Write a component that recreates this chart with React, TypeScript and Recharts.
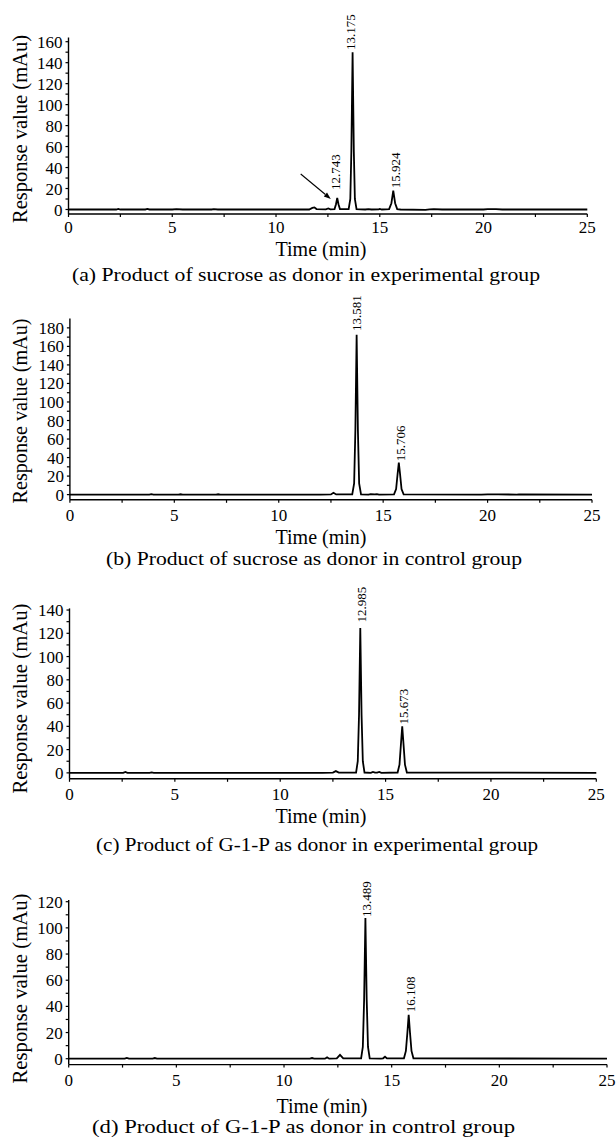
import React from 'react';
import { LineChart, Line, XAxis, YAxis, ReferenceDot, ReferenceLine } from 'recharts';

const FONT = '"Liberation Serif", "Times New Roman", serif';

const xTicks = [0, 2.5, 5, 7.5, 10, 12.5, 15, 17.5, 20, 22.5, 25];

// (a) sucrose, experimental
const timeA = [0, 2.3, 2.4, 2.5, 3.7, 3.8, 3.9, 5.0, 5.2, 5.5, 6.9, 7.0, 7.2, 11.6, 11.75, 11.85, 11.95, 12.4, 12.52, 12.62, 12.82, 12.89, 12.95, 13.01, 13.08, 13.5, 13.58, 13.63, 13.69, 13.75, 13.8, 13.88, 14.3, 14.45, 14.6, 14.95, 15.0, 15.1, 15.45, 15.56, 15.65, 15.74, 15.84, 16.0, 17.2, 17.4, 17.6, 18.0, 20.0, 20.2, 20.6, 20.9, 25];
const signalA = [0, 0, 0.6, 0, 0, 0.5, 0, 0, 0.4, 0, 0, 0.3, 0, 0, 1.5, 2, 0.4, 0.2, 1, 0.2, 0.4, 5, 11, 5, 0.4, 0.3, 10, 55, 150, 55, 10, 0.3, 0, 0.4, 0, 0.2, 0.6, 0, 0.3, 6, 18, 6, 0.4, 0, -0.3, 0.2, 0.3, 0, 0, 0.4, 0.3, 0, 0];
const yTicksA = [0, 10, 20, 30, 40, 50, 60, 70, 80, 90, 100, 110, 120, 130, 140, 150, 160];
const peakTimeA = [12.84, 13.6, 15.73];
const peakTopA = [18.6, 152, 20.2];
const peakTextA = ['12.743', '13.175', '15.924'];
const arrowA = [{ x: 11.19, y: 33.8 }, { x: 12.64, y: 10 }];

// (b) sucrose, control
const timeB = [0, 3.8, 3.9, 4.0, 5.2, 5.3, 5.4, 7.0, 7.1, 7.2, 12.0, 12.5, 12.62, 12.75, 13.52, 13.61, 13.67, 13.73, 13.79, 13.85, 13.94, 14.3, 14.4, 14.6, 14.7, 14.8, 15.52, 15.62, 15.69, 15.75, 15.81, 15.88, 15.98, 19.7, 20.0, 20.5, 21.4, 21.5, 25];
const signalB = [0, 0, 0.5, 0, 0, 0.4, 0, 0, 0.4, 0, 0, 0.2, 2, 0.2, 0.3, 12, 70, 172.5, 70, 12, 0.3, 0, 0.5, 0.3, 0.5, 0, 0.3, 6, 22, 34.5, 22, 6, 0.3, 0, 0.3, 0.3, 0, 0.3, 0];
const yTicksB = [0, 10, 20, 30, 40, 50, 60, 70, 80, 90, 100, 110, 120, 130, 140, 150, 160, 170, 180];
const peakTimeB = [13.73, 15.81];
const peakTopB = [176.5, 36];
const peakTextB = ['13.581', '15.706'];

// (c) G-1-P, experimental
const timeC = [0, 2.55, 2.65, 2.75, 3.8, 3.9, 4.0, 12.0, 12.5, 12.64, 12.78, 13.6, 13.68, 13.74, 13.8, 13.86, 13.92, 14.0, 14.3, 14.4, 14.5, 14.6, 14.7, 14.8, 15.57, 15.66, 15.73, 15.79, 15.85, 15.92, 16.01, 25];
const signalC = [0, 0, 0.8, 0, 0, 0.4, 0, 0, 0.2, 1.5, 0.2, 0.3, 10, 50, 124.5, 50, 10, 0.3, 0, 0.8, 0.2, 0.2, 0.8, 0, 0.3, 7, 25, 40, 25, 7, 0.3, 0];
const yTicksC = [0, 10, 20, 30, 40, 50, 60, 70, 80, 90, 100, 110, 120, 130, 140];
const peakTimeC = [13.85, 15.85];
const peakTopC = [129.3, 41.5];
const peakTextC = ['12.985', '15.673'];

// (d) G-1-P, control
const timeD = [0, 2.6, 2.7, 2.8, 3.9, 4.0, 4.1, 11.2, 11.3, 11.4, 11.9, 12.0, 12.1, 12.45, 12.6, 12.75, 13.58, 13.66, 13.72, 13.78, 13.84, 13.9, 13.98, 14.5, 14.6, 14.69, 14.78, 15.57, 15.66, 15.73, 15.79, 15.85, 15.92, 16.01, 25];
const signalD = [0, 0, 0.6, 0, 0, 0.5, 0, 0, 0.5, 0, 0, 1, 0, 0.2, 3, 0.2, 0.3, 9, 45, 107.5, 45, 9, 0.3, 0, 0.3, 1.5, 0.2, 0.3, 6, 20, 33.6, 20, 6, 0.3, 0];
const yTicksD = [0, 10, 20, 30, 40, 50, 60, 70, 80, 90, 100, 110, 120];
const peakTimeD = [13.82, 15.85];
const peakTopD = [108.3, 35.6];
const peakTextD = ['13.489', '16.108'];

const captions = [
  '(a) Product of sucrose as donor in experimental group',
  '(b) Product of sucrose as donor in control group',
  '(c) Product of G-1-P as donor in experimental group',
  '(d) Product of G-1-P as donor in control group',
];

// axis boxes reserved inside the margins
const Y_AXIS_W = 40;
const X_AXIS_H = 30;

const peakLabel = (text: string) => (props: any) => {
  const vb = props.viewBox || {};
  const x = vb.x + (vb.width || 0) / 2;
  const y = vb.y + (vb.height || 0) / 2;
  return (
    <text
      x={x}
      y={y}
      dy="0.36em"
      transform={`rotate(-90 ${x} ${y})`}
      fontSize={13}
      fontFamily={FONT}
      fill="#000"
    >
      {text}
    </text>
  );
};

const arrowShape = (p: any) => {
  const { x1, y1, x2, y2 } = p;
  const ang = Math.atan2(y2 - y1, x2 - x1);
  const len = 7;
  const half = 2.5;
  const bx = x2 - len * Math.cos(ang);
  const by = y2 - len * Math.sin(ang);
  const pts = `${x2},${y2} ${bx + half * Math.sin(ang)},${by - half * Math.cos(ang)} ${bx - half * Math.sin(ang)},${by + half * Math.cos(ang)}`;
  return (
    <g>
      <line x1={x1} y1={y1} x2={bx} y2={by} stroke="#000" strokeWidth={1.1} />
      <polygon points={pts} fill="#000" />
    </g>
  );
};

interface PanelProps {
  top: number;
  height: number;
  plot: { top: number; right: number; bottom: number; left: number };
  domain: [number, number];
  xTickMargin: number;
  times: number[];
  signal: number[];
  yTicks: number[];
  peakTimes: number[];
  peakTops: number[];
  peakTexts: string[];
  arrow?: { x: number; y: number }[];
  yLabel: { x: number; y: number; len: number };
  timeLabel: { x: number; y: number };
  caption: { text: string; x: number; y: number; len: number };
}

const Panel = (p: PanelProps) => {
  const data = p.times.map((t, i) => ({ t, v: p.signal[i] }));
  const tickStyle = { fill: '#000', fontSize: 17, fontFamily: FONT };
  const margin = {
    top: p.plot.top,
    right: p.plot.right,
    bottom: p.plot.bottom - X_AXIS_H,
    left: p.plot.left - Y_AXIS_W,
  };
  return (
    <div style={{ position: 'absolute', left: 0, top: p.top, width: 616, height: p.height }}>
      <LineChart width={616} height={p.height} data={data} margin={margin}>
        <XAxis
          dataKey="t"
          type="number"
          domain={[0, 25]}
          ticks={xTicks}
          interval={0}
          height={X_AXIS_H}
          tickSize={3}
          tickMargin={p.xTickMargin}
          tickFormatter={(v: number) => (v % 5 === 0 ? String(v) : '')}
          tick={tickStyle}
          axisLine={{ stroke: '#000', strokeWidth: 1.4 }}
          tickLine={{ stroke: '#000', strokeWidth: 1.2 }}
        />
        <YAxis
          type="number"
          domain={p.domain}
          ticks={p.yTicks}
          interval={0}
          width={Y_AXIS_W}
          allowDataOverflow
          tickSize={3}
          tickMargin={3}
          tickFormatter={(v: number) => (v % 20 === 0 ? String(v) : '')}
          tick={tickStyle}
          axisLine={{ stroke: '#000', strokeWidth: 1.4 }}
          tickLine={{ stroke: '#000', strokeWidth: 1.2 }}
        />
        <Line
          type="linear"
          dataKey="v"
          stroke="#000"
          strokeWidth={1.8}
          dot={false}
          isAnimationActive={false}
        />
        {p.peakTimes.map((t, i) => (
          <ReferenceDot
            key={p.peakTexts[i]}
            x={t}
            y={p.peakTops[i]}
            r={0}
            fill="none"
            stroke="none"
            label={peakLabel(p.peakTexts[i])}
          />
        ))}
        {p.arrow && <ReferenceLine segment={p.arrow} shape={arrowShape} />}
      </LineChart>
      <svg
        width={616}
        height={p.height}
        style={{ position: 'absolute', left: 0, top: 0, pointerEvents: 'none' }}
      >
        <text
          x={p.yLabel.x}
          y={p.yLabel.y}
          dy="0.35em"
          textAnchor="middle"
          transform={`rotate(-90 ${p.yLabel.x} ${p.yLabel.y})`}
          fontSize={20}
          fontFamily={FONT}
          textLength={p.yLabel.len}
          lengthAdjust="spacingAndGlyphs"
        >
          Response value (mAu)
        </text>
        <text
          x={p.timeLabel.x}
          y={p.timeLabel.y}
          dy="0.35em"
          textAnchor="middle"
          fontSize={20}
          fontFamily={FONT}
        >
          Time (min)
        </text>
        <text
          x={p.caption.x}
          y={p.caption.y}
          dy="0.35em"
          textAnchor="middle"
          fontSize={19}
          fontFamily={FONT}
          textLength={p.caption.len}
          lengthAdjust="spacingAndGlyphs"
        >
          {p.caption.text}
        </text>
      </svg>
    </div>
  );
};

export default function App() {
  return (
    <div style={{ position: 'absolute', left: 0, top: 0, width: 616, height: 1139, background: '#fff' }}>
      <Panel
        top={0}
        height={290}
        plot={{ top: 37.5, right: 28.7, bottom: 76, left: 68.5 }}
        domain={[-4.3, 164]}
        xTickMargin={3.6}
        times={timeA}
        signal={signalA}
        yTicks={yTicksA}
        peakTimes={peakTimeA}
        peakTops={peakTopA}
        peakTexts={peakTextA}
        arrow={arrowA}
        yLabel={{ x: 20, y: 129, len: 188 }}
        timeLabel={{ x: 321, y: 249 }}
        caption={{ text: captions[0], x: 306, y: 274, len: 468 }}
      />
      <Panel
        top={290}
        height={280}
        plot={{ top: 28.6, right: 24, bottom: 70.2, left: 69.9 }}
        domain={[-5.6, 190]}
        xTickMargin={6.5}
        times={timeB}
        signal={signalB}
        yTicks={yTicksB}
        peakTimes={peakTimeB}
        peakTops={peakTopB}
        peakTexts={peakTextB}
        yLabel={{ x: 20, y: 121, len: 185 }}
        timeLabel={{ x: 321, y: 247 }}
        caption={{ text: captions[1], x: 314, y: 268, len: 416 }}
      />
      <Panel
        top={570}
        height={290}
        plot={{ top: 38.4, right: 19.7, bottom: 81.2, left: 69.5 }}
        domain={[-5.1, 141.4]}
        xTickMargin={6.5}
        times={timeC}
        signal={signalC}
        yTicks={yTicksC}
        peakTimes={peakTimeC}
        peakTops={peakTopC}
        peakTexts={peakTextC}
        yLabel={{ x: 20, y: 128.5, len: 190 }}
        timeLabel={{ x: 321, y: 246 }}
        caption={{ text: captions[2], x: 317, y: 274.4, len: 442 }}
      />
      <Panel
        top={860}
        height={279}
        plot={{ top: 40, right: 9, bottom: 74.4, left: 68.7 }}
        domain={[-4.5, 121.3]}
        xTickMargin={6.5}
        times={timeD}
        signal={signalD}
        yTicks={yTicksD}
        peakTimes={peakTimeD}
        peakTops={peakTopD}
        peakTexts={peakTextD}
        yLabel={{ x: 20, y: 128.5, len: 190 }}
        timeLabel={{ x: 322, y: 245.5 }}
        caption={{ text: captions[3], x: 303.5, y: 266.5, len: 423 }}
      />
    </div>
  );
}
